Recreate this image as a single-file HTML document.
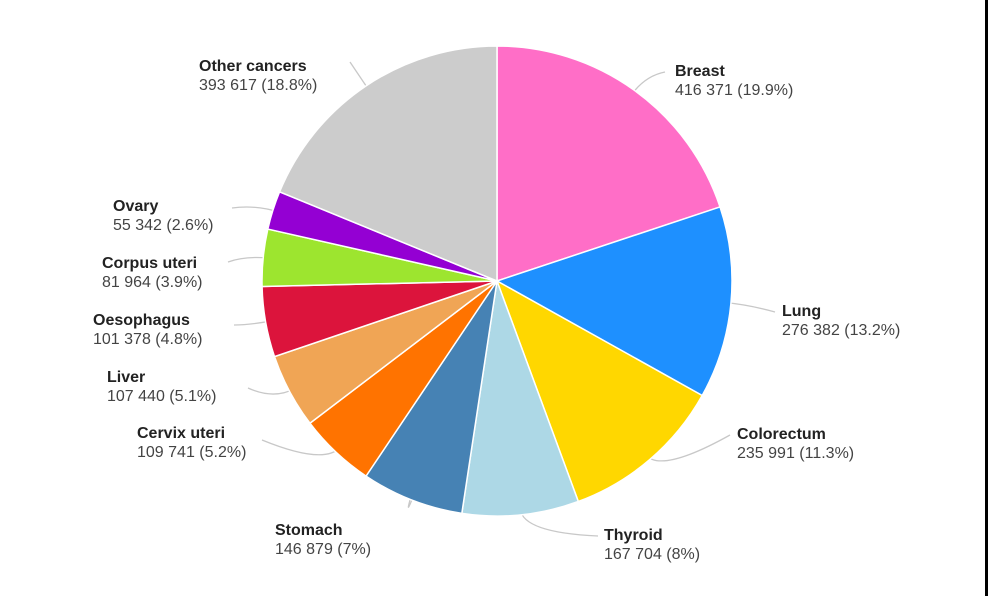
<!DOCTYPE html>
<html><head><meta charset="utf-8"><style>
html,body{margin:0;padding:0;background:#fff;}
body{width:988px;height:596px;overflow:hidden;position:relative;}
.bar{position:absolute;left:985px;top:0;width:3px;height:596px;background:#000;}
svg text{font-family:"Liberation Sans",sans-serif;font-size:16px;}
.n{font-weight:bold;fill:#222;}
.v{fill:#444;}
</style></head><body>
<svg id="s" width="988" height="596" xmlns="http://www.w3.org/2000/svg"></svg>
<div class="bar"></div>
<script>
var d=[["Breast",416371,"#ff6ec7"],["Lung",276382,"#1e90ff"],["Colorectum",235991,"#ffd700"],["Thyroid",167704,"#add8e6"],["Stomach",146879,"#4682b4"],["Cervix uteri",109741,"#ff7300"],["Liver",107440,"#f0a555"],["Oesophagus",101378,"#dc143c"],["Corpus uteri",81964,"#9de52f"],["Ovary",55342,"#9400d3"],["Other cancers",393617,"#cccccc"]];
var lab=[[675,76,"416 371 (19.9%)"],[782,316,"276 382 (13.2%)"],[737,439,"235 991 (11.3%)"],[604,540,"167 704 (8%)"],[275,535,"146 879 (7%)"],[137,438,"109 741 (5.2%)"],[107,382,"107 440 (5.1%)"],[93,325,"101 378 (4.8%)"],[102,268,"81 964 (3.9%)"],[113,211,"55 342 (2.6%)"],[199,71,"393 617 (18.8%)"]];
var ends=[[665,72],[775,312],[730,435],[598,536],[410,500],[262,440],[248,388],[234,325],[228,262],[232,208],[350,62]];
var T=0;d.forEach(function(e){T+=e[1];});
var cx=497,cy=281,r=235,a=0,h="";
function p(ang,rr){return [cx+rr*Math.sin(ang),cy-rr*Math.cos(ang)];}
var lines="";
d.forEach(function(e,i){
 var s=a,en=a+e[1]/T*2*Math.PI;a=en;
 var A=p(s,r),B=p(en,r),lg=(en-s)>Math.PI?1:0;
 h+='<path d="M'+cx+','+cy+' L'+A[0]+','+A[1]+' A'+r+','+r+' 0 '+lg+' 1 '+B[0]+','+B[1]+' Z" fill="'+e[2]+'" stroke="#fff" stroke-width="1.5"/>';
 var m=(s+en)/2,P1=p(m,r-6),P2=p(m,r+18);
 var L=lab[i],E=ends[i];
 lines+='<path d="M'+P1[0]+','+P1[1]+' Q'+P2[0]+','+P2[1]+' '+E[0]+','+E[1]+'" fill="none" stroke="#c8c8c8" stroke-width="1.3"/>';
 h+='<text class="n" x="'+L[0]+'" y="'+L[1]+'">'+e[0]+'</text><text class="v" x="'+L[0]+'" y="'+(L[1]+19)+'">'+L[2]+'</text>';
});
document.getElementById("s").innerHTML=lines+h;
</script>
</body></html>
